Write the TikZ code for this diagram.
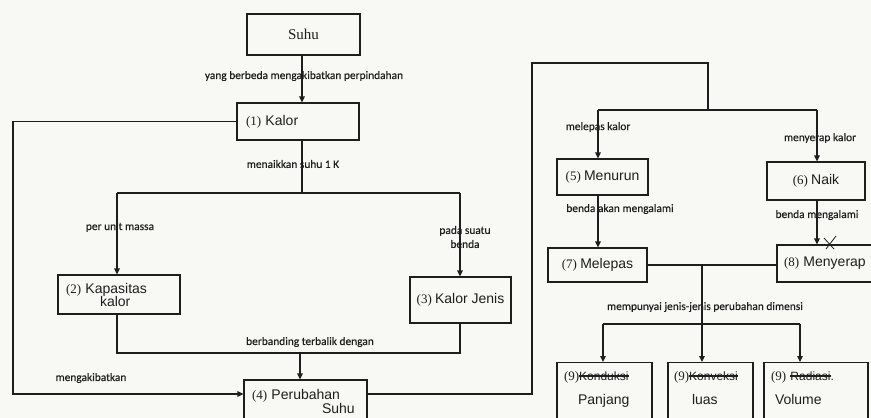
\documentclass[tikz,border=0pt]{standalone}
\usepackage{fontspec}
\setmainfont{Liberation Serif}
\newfontfamily\lblfont[FakeBold=0.35]{Carlito}
\newfontfamily\handfont{Liberation Sans}
\usetikzlibrary{arrows.meta}
\definecolor{bgc}{HTML}{F8F8F5}
\definecolor{ink}{HTML}{1E1E1E}
\newsavebox\strkbox
\newcommand\strk[1]{\sbox\strkbox{#1}\rlap{\usebox\strkbox}\rule[0.3em]{\wd\strkbox}{1.3pt}}
\newcommand\hw[1]{{\handfont\fontsize{14}{16}\selectfont #1}}
\newcommand\hws[1]{{\handfont\fontsize{12}{14}\selectfont #1}}
\begin{document}
\begin{tikzpicture}[x=1pt,y=-1pt,
  every node/.style={text=ink},
  box/.style={draw=ink, line width=1.1pt, inner ysep=0pt, font=\fontsize{13}{16}\selectfont},
  box9/.style={box, anchor=north, inner ysep=9pt, text depth=48pt, align=left},
  lbl/.style={font=\lblfont\fontsize{11.4}{14}\selectfont, inner sep=0pt, align=center},
  conn/.style={draw=ink, line width=1.1pt},
  arr/.style={conn, -{Triangle[length=6pt,width=5.5pt]}}]
\fill[bgc] (0,0) rectangle (871,418);
\useasboundingbox (0,0) rectangle (871,418);
\clip (0,0) rectangle (871,418);

% boxes
\node[box, minimum width=113pt, minimum height=41pt, font=\fontsize{15}{17}\selectfont] (suhu) at (303.5,34.5) {Suhu};
\node[box, minimum width=122pt, minimum height=37pt, text width=104pt, inner xsep=9pt, align=left] (kalor) at (298,121.5) {(1) \hw{Kalor}};
\node[box, minimum width=122pt, minimum height=39pt, text width=106pt, inner xsep=8pt, align=left] (k2) at (119,294.5) {(2) \hw{Kapasitas}\\[-3pt]\hspace*{34pt}\hw{kalor}};
\node[box, minimum width=101pt, minimum height=46pt] (k3) at (460.5,300) {(3) \hw{Kalor Jenis}};
\node[box, minimum width=123pt, minimum height=42pt, text width=107pt, inner xsep=8pt, align=left] (k4) at (305.5,401) {(4) \hw{Perubahan}\\[-2pt]\hspace*{70pt}\hw{Suhu}};
\node[box, minimum width=91pt, minimum height=36pt] (k5) at (602.5,177) {(5) \hw{Menurun}};
\node[box, minimum width=98pt, minimum height=38pt] (k6) at (816,181) {(6) \hw{Naik}};
\node[box, minimum width=99pt, minimum height=34pt] (k7) at (597.5,265) {(7) \hw{Melepas}};
\node[box, minimum width=118pt, minimum height=37pt, text width=104pt, inner xsep=6pt, align=left] (k8) at (836,263.5) {(8) \hw{Menyerap}};
\node[box9, minimum width=95pt, text width=81pt, inner xsep=7pt] (k9a) at (604.5,362) {(9)\strk{\hws{Konduksi}}\\[8pt]\hspace*{14pt}\hw{Panjang}};
\node[box9, minimum width=85pt, text width=73pt, inner xsep=6pt] (k9b) at (710.5,362) {(9)\strk{\hws{Konveksi}}\\[8pt]\hspace*{18pt}\hw{luas}};
\node[box9, minimum width=104pt, text width=90pt, inner xsep=7pt] (k9c) at (816,362) {(9) \strk{\hws{Radiasi}}\hws{.}\\[8pt]\hspace*{4pt}\hw{Volume}};

% connector coordinates
\coordinate (S1) at (302,0);
\coordinate (L2) at (13,394);
\coordinate (J1) at (302,193);
\coordinate (J2) at (117,193);
\coordinate (J3) at (460,193);
\coordinate (B2) at (117,353);
\coordinate (B3) at (460,353);
\coordinate (B4) at (300,353);
\coordinate (R1) at (532,394);
\coordinate (R2) at (532,63);
\coordinate (R3) at (708,63);
\coordinate (R4) at (708,110);
\coordinate (R5) at (598,110);
\coordinate (R6) at (817,110);
\coordinate (M1) at (702,266);
\coordinate (M2) at (603,324);
\coordinate (M3) at (800,324);

% connectors
\draw[arr] (S1 |- suhu.south) -- (S1 |- kalor.north);
\draw[arr] (kalor.west) -| (L2) -- (L2 -| k4.west);
\draw[conn] (J1 |- kalor.south) -- (J1);
\draw[conn] (J2) -- (J3);
\draw[arr] (J2) -- (J2 |- k2.north);
\draw[arr] (J3) -- (J3 |- k3.north);
\draw[conn] (B2 |- k2.south) -- (B2) -- (B3) -- (B3 |- k3.south);
\draw[arr] (B4) -- (B4 |- k4.north);
\draw[conn] (k4.east |- R1) -- (R1) -- (R2) -- (R3) -- (R4);
\draw[conn] (R5) -- (R6);
\draw[arr] (R5) -- (R5 |- k5.north);
\draw[arr] (R6) -- (R6 |- k6.north);
\draw[arr] (R5 |- k5.south) -- (R5 |- k7.north);
\draw[arr] (R6 |- k6.south) -- (R6 |- k8.north);
\draw[conn] (k7.east) -- (k7.east -| k8.west);
\draw[arr] (M1) -- (M1 |- k9b.north);
\draw[conn] (M2) -- (M3);
\draw[arr] (M2) -- (M2 |- k9a.north);
\draw[arr] (M3) -- (M3 |- k9c.north);

% mark above (8)
\draw[ink, line width=0.8pt] (824,238) -- (834,249);
\draw[ink, line width=0.8pt] (836,236) -- (826,249);

% labels
\node[lbl] (t1) at (304,76) {yang berbeda mengakibatkan perpindahan};
\node[lbl] (t2) at (293,164) {menaikkan suhu 1 K};
\node[lbl] (t3) at (120,227) {per unit massa};
\node[lbl] (t4) at (465,237) {pada suatu\\benda};
\node[lbl] (t5) at (310,342) {berbanding terbalik dengan};
\node[lbl] (t6) at (91,378) {mengakibatkan};
\node[lbl] (t7) at (598,127) {melepas kalor};
\node[lbl] (t8) at (820,138) {menyerap kalor};
\node[lbl] (t9) at (620,209) {benda akan mengalami};
\node[lbl] (t10) at (817,215) {benda mengalami};
\node[lbl] (t11) at (705,307) {mempunyai jenis-jenis perubahan dimensi};
\end{tikzpicture}
\end{document}
